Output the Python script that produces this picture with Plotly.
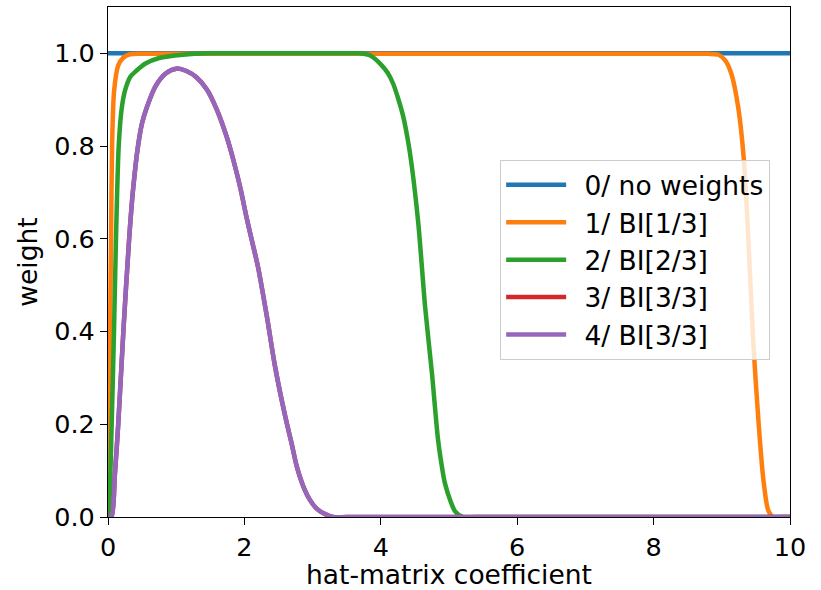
import plotly.graph_objects as go

# ---- data ----
blue_x = [0, 10]
blue_y = [1.0, 1.0]

orange_x = [0, 0.02, 0.03, 0.045, 0.06, 0.09, 0.15, 0.22, 0.32, 0.5, 1, 2, 3, 4, 5, 6, 7, 8, 8.5,
            8.8, 8.95, 9.05, 9.14, 9.24, 9.32, 9.39, 9.46, 9.54, 9.61, 9.68, 9.75, 9.85, 10]
orange_y = [0, 0.2, 0.4, 0.6, 0.8, 0.92, 0.974, 0.99, 0.998, 0.999, 0.999, 0.999, 0.999, 0.999,
            0.999, 0.999, 0.999, 0.999, 0.999,
            0.999, 0.997, 0.985, 0.956, 0.884, 0.777, 0.597, 0.381, 0.202, 0.08, 0.015, 0, 0, 0]

green_x = [0, 0.02, 0.054, 0.088, 0.117, 0.157, 0.2, 0.25, 0.33, 0.42, 0.55, 0.75, 1.1, 1.5,
           2.0, 2.5, 3.0, 3.5,
           3.7, 3.85, 3.99, 4.1, 4.18, 4.26, 4.33, 4.4, 4.45, 4.55, 4.65, 4.75, 4.84, 4.9,
           4.94, 5.02, 5.09, 5.2, 5.4, 6, 7, 8, 9, 10]
green_y = [0, 0.03, 0.2, 0.4, 0.6, 0.8, 0.88, 0.92, 0.95, 0.963, 0.978, 0.99, 0.997, 1.0,
           1.0, 1.0, 1.0, 1.0,
           1.0, 0.995, 0.978, 0.958, 0.935, 0.9, 0.863, 0.81, 0.762, 0.633, 0.453, 0.31, 0.166, 0.105,
           0.073, 0.035, 0.012, 0, 0, 0, 0, 0, 0, 0]

bi3_x = [0, 0.05, 0.1, 0.15, 0.225, 0.31, 0.37, 0.44, 0.5, 0.57, 0.7, 0.85, 1.0, 1.15, 1.3, 1.45,
         1.6, 1.74, 1.84, 1.94, 2.03, 2.12, 2.20, 2.33, 2.45, 2.60, 2.69, 2.77, 2.88, 2.96, 3.06,
         3.16, 3.3, 3.5, 4, 5, 6, 7, 8, 9, 10]
bi3_y = [0, 0, 0.09, 0.2, 0.4, 0.6, 0.71, 0.8, 0.85, 0.884, 0.93, 0.957, 0.967, 0.962, 0.948, 0.922,
         0.877, 0.82, 0.769, 0.71, 0.647, 0.59, 0.539, 0.432, 0.324, 0.216, 0.16, 0.108, 0.06, 0.037,
         0.018, 0.008, 0, 0, 0, 0, 0, 0, 0, 0, 0]

names = ["0/ no weights", "1/ BI[1/3]", "2/ BI[2/3]", "3/ BI[3/3]", "4/ BI[3/3]"]
colors = ["#1f77b4", "#ff7f0e", "#2ca02c", "#d62728", "#9467bd"]
series = [(blue_x, blue_y), (orange_x, orange_y), (green_x, green_y), (bi3_x, bi3_y), (bi3_x, bi3_y)]

x_ticks = [0, 2, 4, 6, 8, 10]
y_ticks = [0.0, 0.2, 0.4, 0.6, 0.8, 1.0]
y_ticklabels = ["0.0", "0.2", "0.4", "0.6", "0.8", "1.0"]

FONT = "DejaVu Sans"
FS = 26.5
TFS = 25.5

fig = go.Figure()
for (xs, ys), n, c in zip(series, names, colors):
    fig.add_trace(go.Scatter(x=xs, y=ys, mode="lines", name="\u2002" + n,
                             line=dict(color=c, width=4.5, shape="spline", smoothing=0.8)))

axis_common = dict(showline=True, linecolor="black", linewidth=1.2, mirror=True,
                   ticks="outside", ticklen=7, tickwidth=1.2, tickcolor="black",
                   showgrid=False, zeroline=False,
                   tickfont=dict(family=FONT, size=TFS, color="black"))

fig.update_xaxes(range=[0, 10], tickvals=x_ticks, ticktext=[str(v) for v in x_ticks],
                 title=dict(text="hat-matrix coefficient", font=dict(family=FONT, size=FS, color="black"),
                            standoff=2),
                 **axis_common)
fig.update_yaxes(range=[0, 1.1], tickvals=y_ticks, ticktext=y_ticklabels,
                 title=dict(text="weight", font=dict(family=FONT, size=FS, color="black"), standoff=8),
                 **axis_common)

fig.update_layout(
    width=821, height=590,
    margin=dict(l=108, r=31, t=7, b=73),
    paper_bgcolor="white", plot_bgcolor="white",
    font=dict(family=FONT, size=FS, color="black"),
    legend=dict(x=0.575, y=0.70, xanchor="left", yanchor="top",
                bgcolor="rgba(255,255,255,0.8)", bordercolor="#cccccc", borderwidth=1,
                font=dict(family=FONT, size=FS, color="black"), itemwidth=60,
                tracegroupgap=0),
    showlegend=True,
)

fig.write_html("out.html")
